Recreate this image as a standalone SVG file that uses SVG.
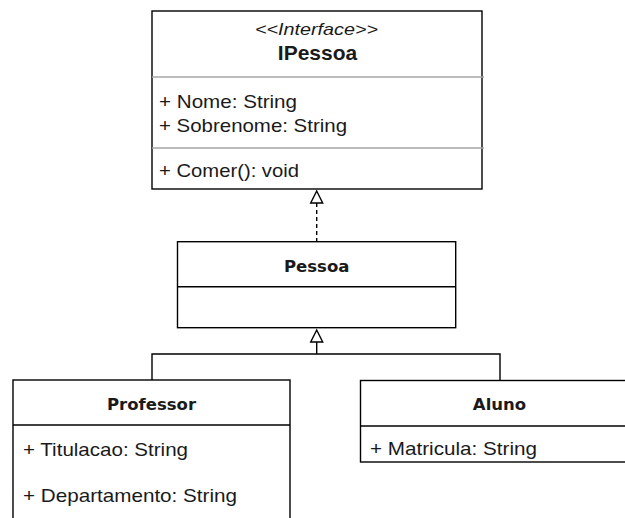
<svg xmlns="http://www.w3.org/2000/svg" width="625" height="518" viewBox="0 0 625 518">
  <defs>
    <style>
      .box { fill: #ffffff; stroke: #000000; stroke-width: 1.4; }
      .div { stroke: #000000; stroke-width: 1.4; fill: none; }
      .div-light { stroke: #a6a6a6; stroke-width: 1.6; fill: none; }
      .attr { font-family: "Liberation Sans", Arial, sans-serif; font-size: 18.5px; fill: #1a1a1a; }
      .stereo { font-family: "Liberation Sans", Arial, sans-serif; font-size: 17px; font-style: italic; fill: #1a1a1a; text-anchor: middle; }
      .iname { font-family: "Liberation Sans", Arial, sans-serif; font-size: 21px; font-weight: bold; fill: #1a1a1a; text-anchor: middle; }
      .title { font-family: "DejaVu Sans", Verdana, sans-serif; font-size: 16.5px; font-weight: bold; fill: #1a1a1a; text-anchor: middle; }
      .edge { stroke: #000000; stroke-width: 1.4; fill: none; }
      .dashed { stroke-dasharray: 4 3; }
      .head { fill: #ffffff; stroke: #000000; stroke-width: 1.4; stroke-linejoin: miter; }
    </style>
  </defs>
  <rect width="625" height="518" fill="#ffffff"/>

  <!-- connectors -->
  <g id="connectors">
    <!-- Pessoa realizes IPessoa -->
    <line class="edge dashed" x1="316.7" y1="203" x2="316.7" y2="242"/>
    <polygon class="head" points="316.7,191 310.7,203 322.7,203"/>
    <!-- Professor and Aluno generalize Pessoa -->
    <path class="edge" d="M316.7 342 V354 M152 380 V354 H500 V380.5"/>
    <polygon class="head" points="316.7,330 310.7,342 322.7,342"/>
  </g>

  <!-- interface IPessoa -->
  <g id="IPessoa">
    <rect class="box" x="152" y="11" width="330" height="178"/>
    <line class="div-light" x1="152" y1="77" x2="484" y2="77"/>
    <line class="div-light" x1="152" y1="148" x2="484" y2="148"/>
    <text class="stereo" x="316.5" y="35" textLength="123" lengthAdjust="spacingAndGlyphs">&lt;&lt;Interface&gt;&gt;</text>
    <text class="iname" x="317.5" y="60">IPessoa</text>
    <text class="attr" x="159" y="108" textLength="138" lengthAdjust="spacingAndGlyphs">+ Nome: String</text>
    <text class="attr" x="159" y="131.5" textLength="188" lengthAdjust="spacingAndGlyphs">+ Sobrenome: String</text>
    <text class="attr" x="159" y="177" textLength="140" lengthAdjust="spacingAndGlyphs">+ Comer(): void</text>
  </g>

  <!-- class Pessoa -->
  <g id="Pessoa">
    <rect class="box" x="177.5" y="241.7" width="278.2" height="86"/>
    <line class="div" x1="177.5" y1="286.7" x2="455.7" y2="286.7"/>
    <text class="title" x="316.7" y="271.7">Pessoa</text>
  </g>

  <!-- class Professor -->
  <g id="Professor">
    <rect class="box" x="13" y="380" width="277" height="160"/>
    <line class="div" x1="13" y1="425" x2="290" y2="425"/>
    <text class="title" x="151.5" y="410">Professor</text>
    <text class="attr" x="23" y="456" textLength="165" lengthAdjust="spacingAndGlyphs">+ Titulacao: String</text>
    <text class="attr" x="23" y="502" textLength="214" lengthAdjust="spacingAndGlyphs">+ Departamento: String</text>
  </g>

  <!-- class Aluno -->
  <g id="Aluno">
    <rect class="box" x="360.5" y="380.5" width="278.5" height="81.5"/>
    <line class="div" x1="360.5" y1="426" x2="639" y2="426"/>
    <text class="title" x="499.5" y="410">Aluno</text>
    <text class="attr" x="370" y="455" textLength="167" lengthAdjust="spacingAndGlyphs">+ Matricula: String</text>
  </g>
</svg>
